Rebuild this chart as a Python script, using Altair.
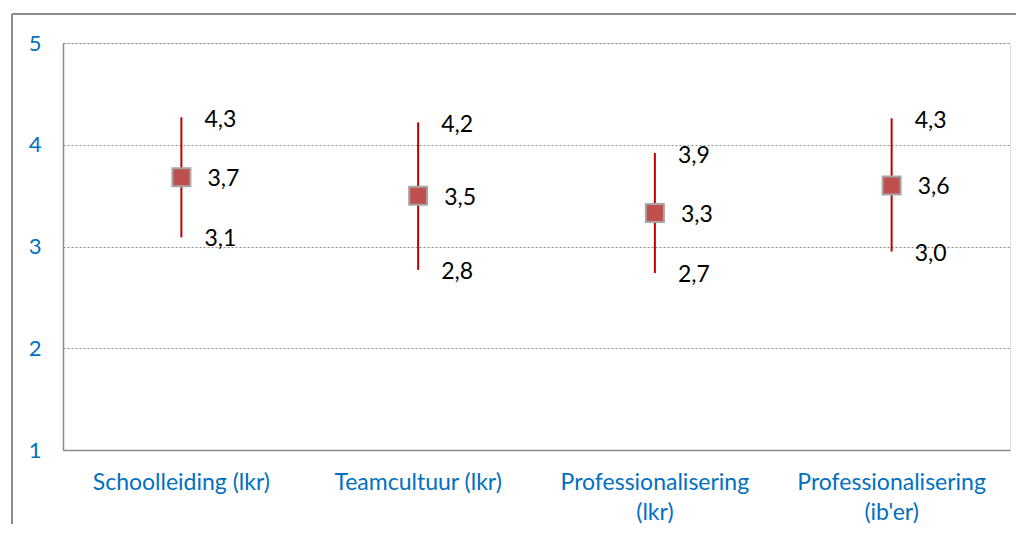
import altair as alt
import pandas as pd

categories = ["Schoolleiding (lkr)", "Teamcultuur (lkr)", "Professionalisering\n(lkr)", "Professionalisering\n(ib'er)"]
means = [3.68, 3.50, 3.33, 3.60]
highs = [4.27, 4.22, 3.92, 4.26]
lows = [3.09, 2.77, 2.74, 2.95]
mean_labels = ["3,7", "3,5", "3,3", "3,6"]
high_labels = ["4,3", "4,2", "3,9", "4,3"]
low_labels = ["3,1", "2,8", "2,7", "3,0"]

df = pd.DataFrame({
    "cat": categories, "mean": means, "high": highs, "low": lows,
    "ml": mean_labels, "hl": high_labels, "ll": low_labels,
})

FONT = "Lato"
BLUE = "#0070C0"
FS = 23

x = alt.X("cat:N", sort=categories, title=None,
          scale=alt.Scale(paddingInner=0, paddingOuter=0),
          axis=alt.Axis(labelAngle=0, labelColor=BLUE, labelFontSize=FS, labelFont=FONT,
                        labelPadding=21, labelLineHeight=30, labelLimit=400, ticks=False,
                        domainColor="#8c8c8c", domainWidth=1.5, grid=False,
                        labelExpr="split(datum.label, '\\n')"))
yscale = alt.Scale(domain=[1, 5], nice=False, zero=False)
yaxis = alt.Axis(values=[1, 2, 3, 4, 5], labelColor=BLUE, labelFontSize=22, labelFont=FONT,
                 labelPadding=22, ticks=False, domainColor="#8c8c8c", domainWidth=1.5,
                 grid=True, gridDash=[2, 2], gridColor="#8c8c8c", gridWidth=1.2, format="d")

base = alt.Chart(df)

whisker = base.mark_rule(color="#C00000", strokeWidth=2).encode(
    x=x, y=alt.Y("low:Q", scale=yscale, axis=yaxis, title=None), y2="high:Q")
square = base.mark_point(shape="square", filled=True, size=324, fill="#C0504D",
                         stroke="#A6A6A6", strokeWidth=2, opacity=1).encode(x=x, y="mean:Q")
tprops = dict(align="left", baseline="middle", fontSize=FS, font=FONT, color="#000000")
t_high = base.mark_text(dx=23, dy=3, **tprops).encode(x=x, y="high:Q", text="hl:N")
t_mean = base.mark_text(dx=26, dy=2, **tprops).encode(x=x, y="mean:Q", text="ml:N")
t_low = base.mark_text(dx=23, dy=2, **tprops).encode(x=x, y="low:Q", text="ll:N")

frame_top = alt.Chart(pd.DataFrame({"a": [0]})).mark_rule(color="#8c8c8c", strokeWidth=2, clip=False).encode(
    x=alt.value(-51), x2=alt.value(2000), y=alt.value(-29))
frame_left = alt.Chart(pd.DataFrame({"a": [0]})).mark_rule(color="#8c8c8c", strokeWidth=2, clip=False).encode(
    x=alt.value(-51), y=alt.value(-29), y2=alt.value(2000))

chart = alt.layer(frame_top, frame_left, whisker, square, t_high, t_mean, t_low).properties(
    width=947, height=407,
    autosize=alt.AutoSizeParams(type="none"),
    padding={"left": 55, "top": 35, "right": 6, "bottom": 74},
).configure_view(strokeWidth=0, strokeOpacity=0).configure(background="white")

chart.save("out.html", embed_options={"renderer": "svg", "actions": False})
